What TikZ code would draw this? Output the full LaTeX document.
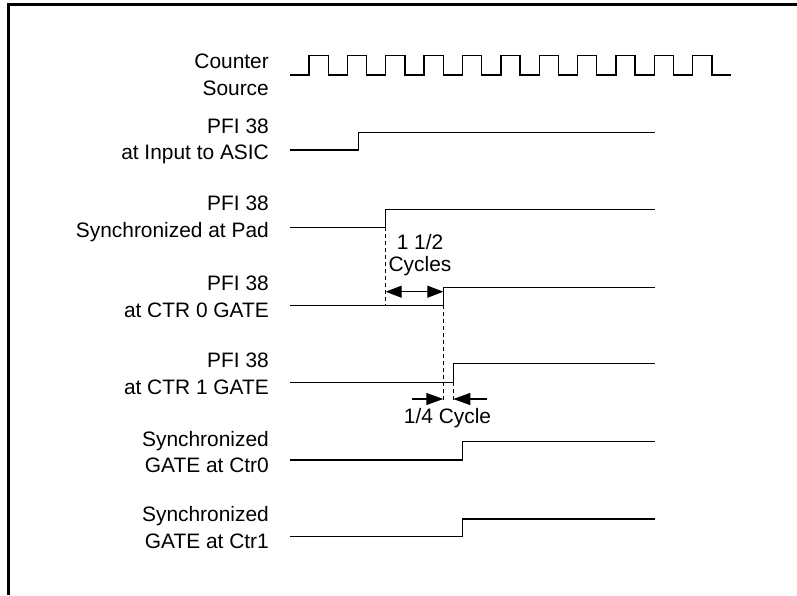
\documentclass[tikz,border=0pt]{standalone}
\usepackage{fontspec}
\setmainfont{Liberation Sans}
\usetikzlibrary{arrows.meta, positioning, calc}

\tikzset{
    sig/.style={line width=1.4pt, line join=miter},
    lbl/.style={anchor=east, align=right, inner sep=0pt, font=\fontsize{20.9}{26.6}\selectfont},
    note/.style={inner sep=0pt, font=\fontsize{20.9}{22}\selectfont},
    guide/.style={line width=1pt, dash pattern=on 4pt off 3pt},
    gap/.style={line width=1.2pt, -{Triangle[length=17pt, width=12pt]}},
    twogap/.style={line width=1.2pt, {Triangle[length=16pt, width=12pt]}-{Triangle[length=16pt, width=12pt]}},
}

\begin{document}
\begin{tikzpicture}[x=1pt, y=-1pt]
    \useasboundingbox (0,0) rectangle (797,595);
    % frame (only top and left edges visible)
    \draw[line width=3pt] (8,595) -- (8,4) -- (797,4);

    % labels
    \node[lbl] (src)   at (269, 75)    {Counter\\Source};
    \node[lbl] (asic)  at (269, 141.5) {PFI 38\\at Input to ASIC};
    \node[lbl] (pad)   at (269, 219)   {PFI 38\\Synchronized at Pad};
    \node[lbl] (ctr0)  at (269, 297)   {PFI 38\\at CTR 0 GATE};
    \node[lbl] (ctr1)  at (269, 374)   {PFI 38\\at CTR 1 GATE};
    \node[lbl] (gate0) at (269, 452)   {Synchronized\\GATE at Ctr0};
    \node[lbl] (gate1) at (269, 527.5) {Synchronized\\GATE at Ctr1};

    % counter source clock
    \draw[sig] (290,75) foreach \k in {0,...,10} {
        -- ({309+38.37*\k},75) -- ({309+38.37*\k},55.7)
        -- ({328.2+38.37*\k},55.7) -- ({328.2+38.37*\k},75) } -- (730.7,75);

    % single-edge signals
    \draw[sig] (290,150)   -- (358.3,150)   -- (358.3,132.7) -- (655,132.7);
    \draw[sig] (290,227.3) -- (385.7,227.3) coordinate (padup)  -- (385.7,209.3) -- (655,209.3);
    \draw[sig] (290,305.3) -- (443.3,305.3) coordinate (ctr0up) -- (443.3,287.7) -- (655,287.7);
    \draw[sig] (290,382.3) -- (453.3,382.3) coordinate (ctr1up) -- (453.3,363.3) -- (655,363.3);
    \draw[sig] (290,460)   -- (462.3,460)   -- (462.3,441.7) -- (655,441.7);
    \draw[sig] (290,536.7) -- (462.3,536.7) -- (462.3,519)   -- (655,519);

    % delay guides
    \draw[guide] (padup) -- (385.7,305.3);
    \draw[guide] (ctr0up) -- (443.3,403);
    \draw[guide] (ctr1up) -- (453.3,403);

    % 1 1/2 cycles
    \draw[twogap] (385.7,291.7) -- (443.3,291.7);
    \node[note, align=center] (half) at (420,255.5) {1 1/2\\Cycles};

    % 1/4 cycle
    \draw[gap] (411.7,399) -- (443.3,399);
    \draw[gap] (487.3,399) -- (453.3,399);
    \node[note] (quarter) at (447.5,418) {1/4 Cycle};
\end{tikzpicture}
\end{document}
